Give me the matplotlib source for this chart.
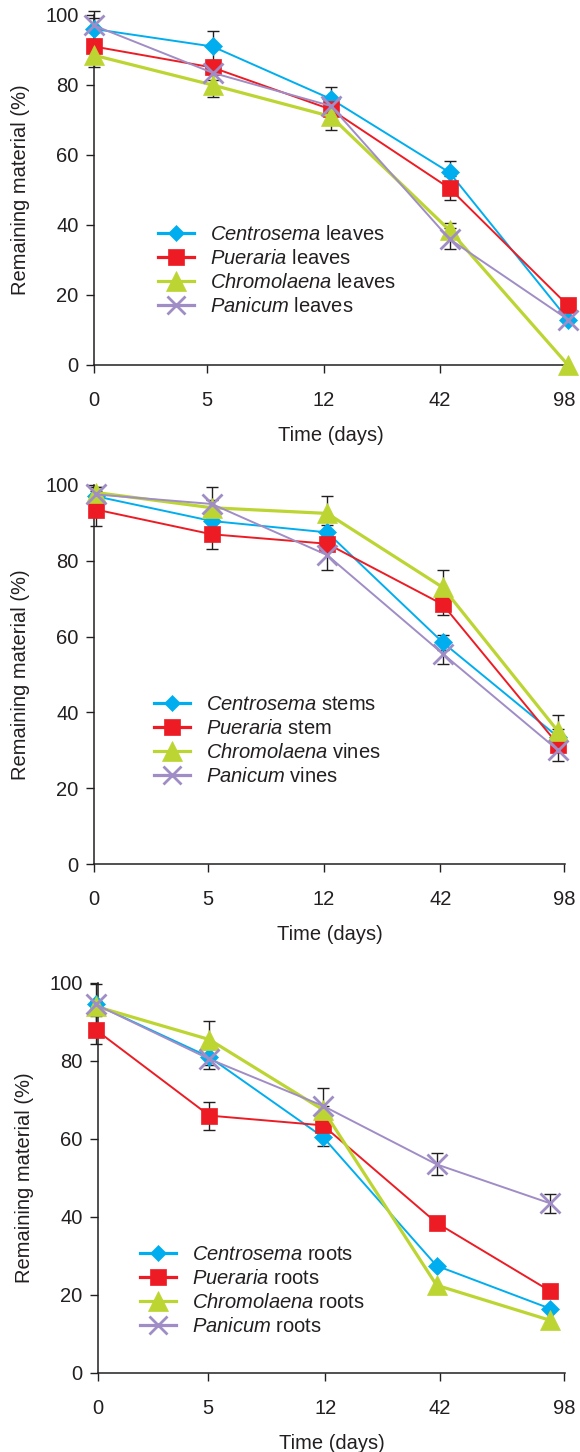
import numpy as np
import matplotlib
matplotlib.use("Agg")
import matplotlib.pyplot as plt

plt.rcParams['font.family'] = ['Liberation Sans', 'DejaVu Sans']
plt.rcParams['mathtext.fontset'] = 'custom'
plt.rcParams['mathtext.rm'] = 'Liberation Sans'
plt.rcParams['mathtext.it'] = 'Liberation Sans:italic'

days = ['0', '5', '12', '42', '98']
species = ['Centrosema', 'Pueraria', 'Chromolaena', 'Panicum']

# panel 1 - leaves
leaves_parts = ['leaves', 'leaves', 'leaves', 'leaves']
leaves = [[96, 91, 76, 55, 13],
          [91, 85, 73, 50.5, 17],
          [88.5, 80, 71, 38.5, 0],
          [97, 83.5, 74, 36, 13]]
leaves_err = [[5, 4.4, 3.5, 3.4, 0],
              [2, 2, 2, 3.5, 0],
              [3.5, 3.4, 4, 2, 0],
              [2, 2, 2, 3, 0]]

# panel 2 - stems / vines
stems_parts = ['stems', 'stem', 'vines', 'vines']
stems = [[97, 90.5, 87.5, 58.5, 33.5],
         [93.5, 87, 84.5, 68.5, 31.5],
         [98, 94, 92.5, 73, 35],
         [97.5, 95, 81.5, 55.5, 30]]
stems_err = [[1.5, 2, 2, 2, 2],
             [4.2, 4, 2, 2.8, 2],
             [1.5, 2, 4.5, 4.6, 4.3],
             [2, 4.5, 4, 2.8, 2.8]]

# panel 3 - roots
roots_parts = ['roots', 'roots', 'roots', 'roots']
roots = [[94.5, 81, 60.5, 27.5, 16.5],
         [88, 66, 63.5, 38.5, 21],
         [94, 85.5, 67.5, 22.5, 13.5],
         [94.5, 80.5, 68.5, 53.5, 43.5]]
roots_err = [[1, 2, 2.3, 0, 0],
             [3.6, 3.6, 1.5, 0, 0],
             [1, 4.7, 1, 0, 0],
             [5.2, 2.5, 4.6, 2.8, 2.5]]

colors = ['#00AEEF', '#ED1C24', '#BDD532', '#A08DC6']
markers = ['D', 's', '^', 'x']
msizes = [9, 12, 15, 14]
lws = [1.4, 1.4, 2.3, 1.4]
ink = '#231F20'
fs = 14.5

W, H = 580, 1452
fig = plt.figure(figsize=(W / 100, H / 100), dpi=100)

# axes boxes in pixels: left, bottom(from top), width, height
boxes = [(94, 365, 474, 350), (94, 864, 471, 379), (98, 1373, 467, 390)]
xlims = [(0, 4.0), (-0.02, 4.06), (0.02, 4.13)]
tick_pos = [[0, 0.95, 1.94, 2.92, 3.97],
            [-0.02, 0.97, 1.97, 2.98, 4.05],
            [0.02, 0.99, 2.02, 3.03, 4.12]]
leg_anchor = [(0.134, 0.40), (0.127, 0.446), (0.089, 0.328)]

panels = [(leaves, leaves_err, leaves_parts),
          (stems, stems_err, stems_parts),
          (roots, roots_err, roots_parts)]

x = np.arange(len(days))
for k, (vals, errs, parts) in enumerate(panels):
    l, b, w, h = boxes[k]
    ax = fig.add_axes([l / W, (H - b) / H, w / W, h / H])
    for i in range(4):
        e = np.array(errs[i])
        ax.errorbar(x, vals[i], yerr=np.where(e > 0, e, np.nan), fmt='none',
                    ecolor=ink, elinewidth=1.0, capsize=4, capthick=1.0,
                    zorder=2, clip_on=False)
    for i in range(4):
        ax.plot(x, vals[i], color=colors[i], lw=lws[i], marker=markers[i],
                ms=msizes[i], mec=colors[i], mew=2 if markers[i] == 'x' else 0.5,
                mfc=colors[i], clip_on=False, zorder=3,
                label=r'$\it{%s}$ %s' % (species[i], parts[i]))
    ax.set_xlim(*xlims[k])
    ax.set_ylim(0, 100)
    ax.set_yticks([0, 20, 40, 60, 80, 100])
    ax.set_xticks(tick_pos[k])
    ax.set_xticklabels(days)
    for s in ['top', 'right']:
        ax.spines[s].set_visible(False)
    for s in ['left', 'bottom']:
        ax.spines[s].set_color(ink)
        ax.spines[s].set_linewidth(1.1)
    ax.tick_params(axis='x', direction='out', length=6, width=1, colors=ink,
                   labelsize=fs, pad=13)
    ax.tick_params(axis='y', direction='out', length=6, width=1, colors=ink,
                   labelsize=fs, pad=5)
    ax.set_xlabel('Time (days)', fontsize=fs, color=ink, labelpad=11)
    ax.set_ylabel('Remaining material (%)', fontsize=fs, color=ink, labelpad=11)
    ax.patch.set_alpha(0)
    leg = ax.legend(loc='upper left', bbox_to_anchor=leg_anchor[k],
                    frameon=False, fontsize=fs, borderpad=0, borderaxespad=0,
                    labelspacing=0.25, handlelength=1.8, handletextpad=0.8,
                    markerscale=0.95)
    for line in leg.get_lines():
        line.set_linewidth(2.3)
    for t in leg.get_texts():
        t.set_color(ink)

fig.savefig('out.png', dpi=100)
